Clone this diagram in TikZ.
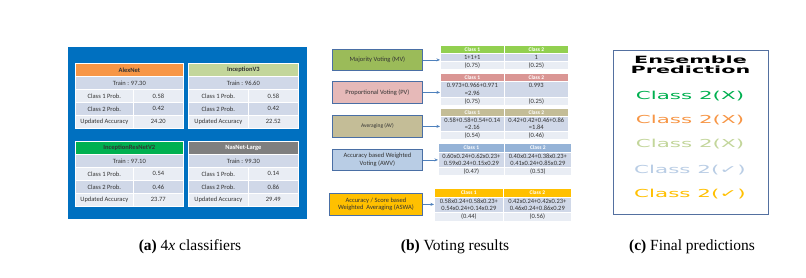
\documentclass[tikz,border=0pt]{standalone}
\usepackage{fontspec}
\usepackage{graphicx}
\usetikzlibrary{arrows.meta}
\newfontfamily\carl{Carlito}
\newfontfamily\widefont[FakeStretch=1.95]{DejaVu Sans}
\newfontfamily\wideb[FakeStretch=2.07]{DejaVu Sans}
\newfontfamily\capfont{Liberation Serif}
\definecolor{bgblue}{HTML}{0070C0}
\definecolor{hOrange}{HTML}{F79646}
\definecolor{hLtGreen}{HTML}{C3D69B}
\definecolor{hGreen}{HTML}{00B050}
\definecolor{hGray}{HTML}{7F7F7F}
\definecolor{rA}{HTML}{D0D8E8}
\definecolor{rB}{HTML}{E9EDF4}
\definecolor{mvFill}{HTML}{9BBB59}
\definecolor{mvHead}{HTML}{92D050}
\definecolor{pvFill}{HTML}{E6B9B8}
\definecolor{pvHead}{HTML}{DA9694}
\definecolor{avFill}{HTML}{C4BD97}
\definecolor{avHead}{HTML}{C4BD97}
\definecolor{awFill}{HTML}{B9CDE5}
\definecolor{awHead}{HTML}{95B3D7}
\definecolor{asFill}{HTML}{FFC000}
\definecolor{asHead}{HTML}{FFC000}
\definecolor{boxline}{HTML}{4A6FA5}
\definecolor{arrowblue}{HTML}{4F81BD}
\definecolor{ensline}{HTML}{5470A0}
\newcommand\tcell[8]{\node[cell,fill=#6,minimum width=#4pt,minimum height=#5pt,#7] (#1) at (#2,#3) {#8};}
\begin{document}
\begin{tikzpicture}[x=1pt,y=-1pt,
 cell/.style={draw=white, line width=0.7pt, inner sep=0pt, anchor=north west, align=center, text=black!80, font=\carl\fontsize{6.5}{7.5}\selectfont},
 hd/.style={font=\carl\bfseries\fontsize{6.5}{7.5}\selectfont},
 mhd/.style={font=\carl\bfseries\fontsize{5.5}{6.5}\selectfont, text=white},
 mcell/.style={font=\carl\fontsize{6.5}{7.3}\selectfont},
 vbox/.style={draw=boxline, line width=0.8pt, inner sep=0pt, anchor=north west, align=center, text=black!80, font=\carl\fontsize{6.5}{7.5}\selectfont},
 arr/.style={-{Stealth[length=3.5pt,width=3pt]}, draw=arrowblue, line width=0.6pt},
 pred/.style={font=\widefont\fontsize{11}{13}\selectfont},
 captext/.style={font=\capfont\fontsize{15.5}{18}\selectfont}]
\fill[white] (0,0) rectangle (806,277);
\useasboundingbox (0,0) rectangle (806,277);

% ---------- (a) classifiers ----------
\node[fill=bgblue, minimum width=239pt, minimum height=172pt, anchor=north west, inner sep=0pt] (bg) at (68,47) {};

% AlexNet
\tcell{an0}{75}{63}{108}{13}{hOrange}{hd}{AlexNet}
\tcell{an1}{75}{76}{108}{13}{rA}{}{Train : 97.30}
\tcell{an2}{75}{89}{58}{13}{rB}{}{Class 1 Prob.}
\tcell{an2v}{133}{89}{50}{13}{rB}{}{0.58}
\tcell{an3}{75}{102}{58}{13}{rA}{}{Class 2 Prob.}
\tcell{an3v}{133}{102}{50}{13}{rA}{}{0.42}
\tcell{an4}{75}{115}{58}{13}{rB}{}{Updated Accuracy}
\tcell{an4v}{133}{115}{50}{13}{rB}{}{24.20}
% InceptionV3
\tcell{iv0}{188}{63}{110}{13}{hLtGreen}{hd}{InceptionV3}
\tcell{iv1}{188}{76}{110}{13}{rA}{}{Train : 96.60}
\tcell{iv2}{188}{89}{60}{13}{rB}{}{Class 1 Prob.}
\tcell{iv2v}{248}{89}{50}{13}{rB}{}{0.58}
\tcell{iv3}{188}{102}{60}{13}{rA}{}{Class 2 Prob.}
\tcell{iv3v}{248}{102}{50}{13}{rA}{}{0.42}
\tcell{iv4}{188}{115}{60}{13}{rB}{}{Updated Accuracy}
\tcell{iv4v}{248}{115}{50}{13}{rB}{}{22.52}
% InceptionResNetV2
\tcell{ir0}{75}{141}{108}{13}{hGreen}{hd}{InceptionResNetV2}
\tcell{ir1}{75}{154}{108}{13}{rA}{}{Train : 97.10}
\tcell{ir2}{75}{167}{58}{13}{rB}{}{Class 1 Prob.}
\tcell{ir2v}{133}{167}{50}{13}{rB}{}{0.54}
\tcell{ir3}{75}{180}{58}{13}{rA}{}{Class 2 Prob.}
\tcell{ir3v}{133}{180}{50}{13}{rA}{}{0.46}
\tcell{ir4}{75}{193}{58}{13}{rB}{}{Updated Accuracy}
\tcell{ir4v}{133}{193}{50}{13}{rB}{}{23.77}
% NasNet-Large
\tcell{nn0}{188}{141}{110}{13}{hGray}{hd,text=white}{NasNet-Large}
\tcell{nn1}{188}{154}{110}{13}{rA}{}{Train : 99.30}
\tcell{nn2}{188}{167}{60}{13}{rB}{}{Class 1 Prob.}
\tcell{nn2v}{248}{167}{50}{13}{rB}{}{0.14}
\tcell{nn3}{188}{180}{60}{13}{rA}{}{Class 2 Prob.}
\tcell{nn3v}{248}{180}{50}{13}{rA}{}{0.86}
\tcell{nn4}{188}{193}{60}{13}{rB}{}{Updated Accuracy}
\tcell{nn4v}{248}{193}{50}{13}{rB}{}{29.49}

% ---------- (b) voting ----------
\node[vbox, fill=mvFill, minimum width=90pt, minimum height=21pt] (mv) at (332,49) {Majority Voting (MV)};
\node[vbox, fill=pvFill, minimum width=90pt, minimum height=22pt] (pv) at (332,81) {Proportional Voting (PV)};
\node[vbox, fill=avFill, minimum width=90pt, minimum height=22pt, font=\carl\fontsize{5.5}{6.5}\selectfont] (av) at (332,115) {Averaging (AV)};
\node[vbox, fill=awFill, minimum width=90pt, minimum height=21pt] (aw) at (332,149) {Accuracy based Weighted\\Voting (AWV)};
\node[vbox, fill=asFill, minimum width=93pt, minimum height=22pt] (as) at (329,193) {Accuracy / Score based\\Weighted\ \ Averaging (ASWA)};

% MV table
\tcell{mvh1}{440}{45}{64}{8}{mvHead}{mhd}{Class 1}
\tcell{mvh2}{504}{45}{64}{8}{mvHead}{mhd}{Class 2}
\tcell{mva1}{440}{53}{64}{8}{rA}{mcell}{1+1+1}
\tcell{mva2}{504}{53}{64}{8}{rA}{mcell}{1}
\tcell{mvb1}{440}{61}{64}{8}{rB}{mcell}{(0.75)}
\tcell{mvb2}{504}{61}{64}{8}{rB}{mcell}{(0.25)}
% PV table
\tcell{pvh1}{440}{73}{64}{8}{pvHead}{mhd}{Class 1}
\tcell{pvh2}{504}{73}{64}{8}{pvHead}{mhd}{Class 2}
\tcell{pva1}{440}{81}{64}{16}{rA}{mcell}{0.973+0.966+0.971\\=2.96}
\tcell{pva2}{504}{81}{64}{16}{rA}{mcell}{0.993\\\phantom{=2.96}}
\tcell{pvb1}{440}{97}{64}{8}{rB}{mcell}{(0.75)}
\tcell{pvb2}{504}{97}{64}{8}{rB}{mcell}{(0.25)}
% AV table
\tcell{avh1}{440}{108}{64}{8}{avHead}{mhd}{Class 1}
\tcell{avh2}{504}{108}{64}{8}{avHead}{mhd}{Class 2}
\tcell{ava1}{440}{116}{64}{15}{rA}{mcell}{0.58+0.58+0.54+0.14\\=2.16}
\tcell{ava2}{504}{116}{64}{15}{rA}{mcell}{0.42+0.42+0.46+0.86\\=1.84}
\tcell{avb1}{440}{131}{64}{8}{rB}{mcell}{(0.54)}
\tcell{avb2}{504}{131}{64}{8}{rB}{mcell}{(0.46)}
% AWV table
\tcell{awh1}{438}{143}{66}{9}{awHead}{mhd}{Class 1}
\tcell{awh2}{504}{143}{67}{9}{awHead}{mhd}{Class 2}
\tcell{awa1}{438}{152}{66}{15}{rA}{mcell}{0.60x0.24+0.62x0.23+\\0.59x0.24+0.15x0.29}
\tcell{awa2}{504}{152}{67}{15}{rA}{mcell}{0.40x0.24+0.38x0.23+\\0.41x0.24+0.85x0.29}
\tcell{awb1}{438}{167}{66}{8}{rB}{mcell}{(0.47)}
\tcell{awb2}{504}{167}{67}{8}{rB}{mcell}{(0.53)}
% ASWA table
\tcell{ash1}{434}{188}{69}{9}{asHead}{mhd}{Class 1}
\tcell{ash2}{503}{188}{68}{9}{asHead}{mhd}{Class 2}
\tcell{asa1}{434}{197}{69}{15}{rA}{mcell}{0.58x0.24+0.58x0.23+\\0.54x0.24+0.14x0.29}
\tcell{asa2}{503}{197}{68}{15}{rA}{mcell}{0.42x0.24+0.42x0.23+\\0.46x0.24+0.86x0.29}
\tcell{asb1}{434}{212}{69}{9}{rB}{mcell}{(0.44)}
\tcell{asb2}{503}{212}{68}{9}{rB}{mcell}{(0.56)}

% arrows
\draw[arr] (mv.east) -- (mv.east -| mva1.west);
\draw[arr] (pv.east) -- (pv.east -| pva1.west);
\draw[arr] (av.east) -- (av.east -| ava1.west);
\draw[arr] (aw.east) -- (aw.east -| awa1.west);
\draw[arr] (as.east) -- (as.east -| asa1.west);

% ---------- (c) predictions ----------
\node[draw=ensline, line width=1.2pt, fill=white, minimum width=155pt, minimum height=164pt, anchor=north west, inner sep=0pt] (ens) at (613,50) {};
\node[font=\wideb\bfseries\fontsize{10}{11}\selectfont, align=center, inner sep=0pt] (ensT) at (690.5,65) {Ensemble\\[-1.5pt]Prediction};
\node[pred, text=hGreen] (p1) at (690,96) {Class 2(X)};
\node[pred, text=hOrange] (p2) at (690,120) {Class 2(X)};
\node[pred, text=hLtGreen] (p3) at (690,144) {Class 2(X)};
\node[pred, text=awFill] (p4) at (690,170) {Class 2(✓)};
\node[pred, text=asFill] (p5) at (690,194) {Class 2(✓)};

% ---------- captions ----------
\node[captext] (capa) at (190,247) {\textbf{(a)} 4\textit{x} classifiers};
\node[captext] (capb) at (455,247) {\textbf{(b)} Voting results};
\node[captext] (capc) at (692,247) {\textbf{(c)} Final predictions};
\end{tikzpicture}
\end{document}
